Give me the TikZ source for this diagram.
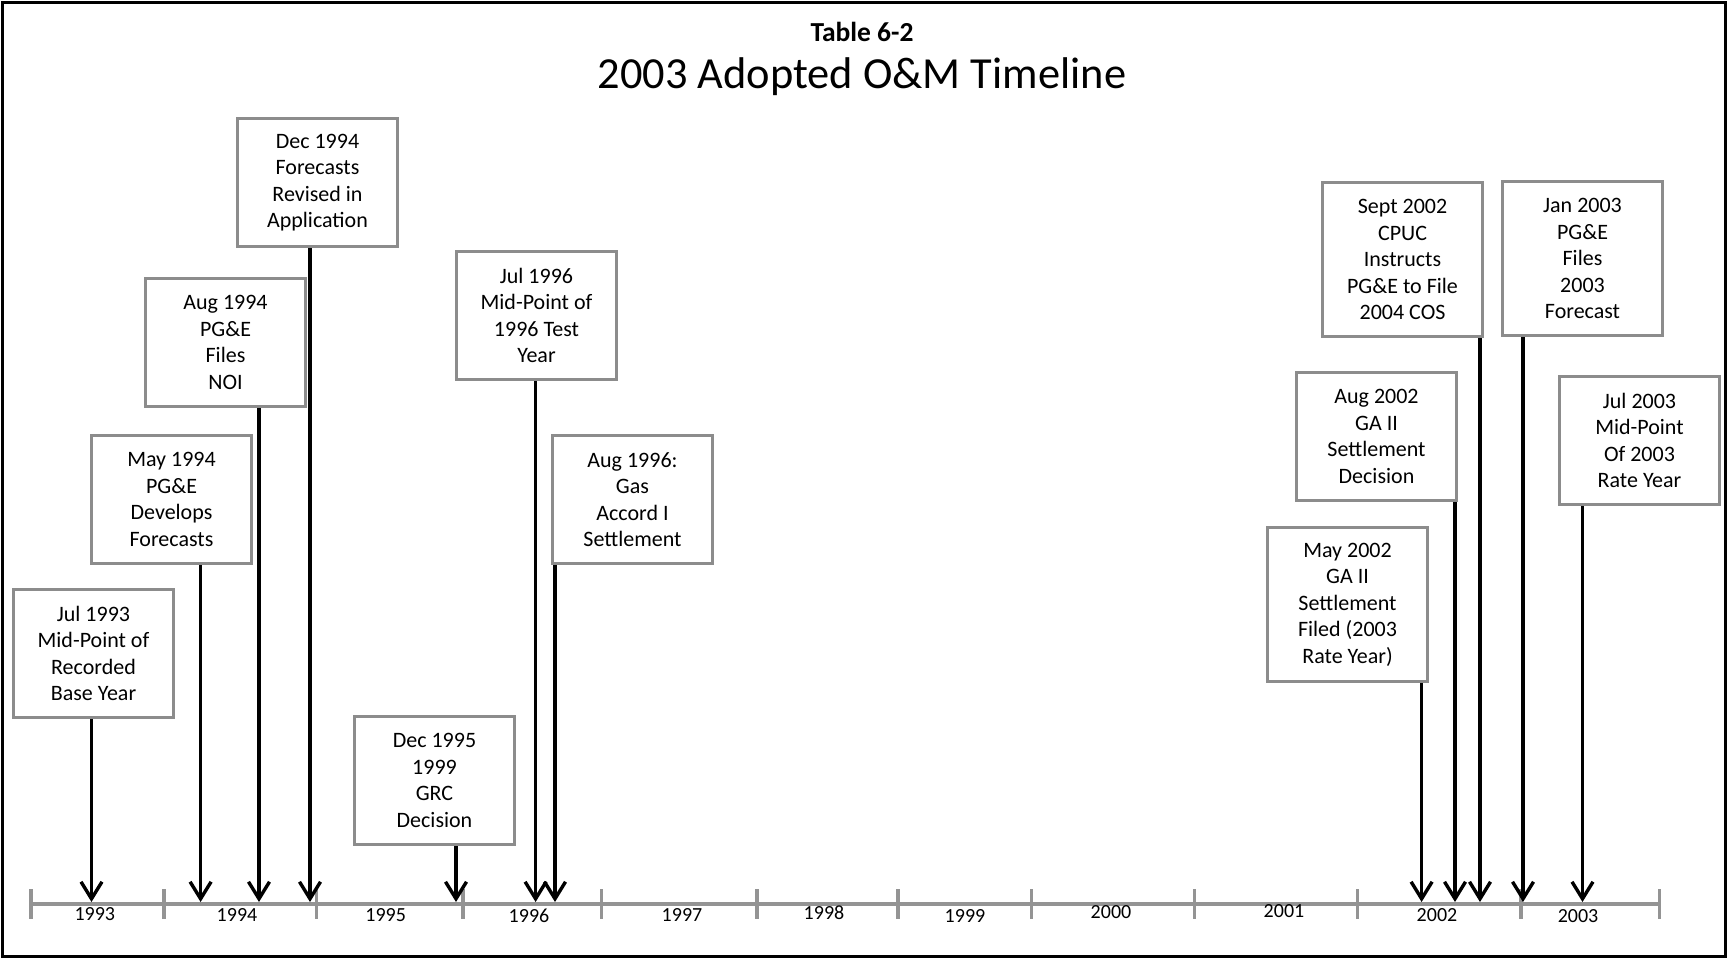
\documentclass[tikz,border=0pt]{standalone}
\usepackage{fontspec}
\setmainfont{Carlito}
\usetikzlibrary{arrows.meta}
\definecolor{boxgray}{gray}{0.55}
\definecolor{axgray}{gray}{0.58}
\begin{document}
\begin{tikzpicture}[x=1pt,y=-1pt,
  evbox/.style={draw=boxgray,line width=3pt,fill=white,anchor=north west,
    minimum width=160pt,minimum height=128pt,inner sep=0pt,align=center,
    font=\fontsize{22}{26.5}\selectfont},
  tall/.style={minimum height=154pt},
  evarrow/.style={line width=3.7pt,-{Straight Barb[length=17pt,width=21pt,line width=3.4pt]}},
  axisline/.style={draw=axgray,line width=4.5pt},
  tickline/.style={draw=axgray,line width=3.5pt},
  yearlbl/.style={font=\fontsize{20}{24}\selectfont,inner sep=0pt}]
\useasboundingbox (0,0) rectangle (1728,959);
\draw[line width=3pt] (2.5,2.5) rectangle (1725.5,956.5);
\node[font=\bfseries\fontsize{27.5}{32}\selectfont] (tab) at (862,32) {Table 6-2};
\node[font=\fontsize{44.4}{50}\selectfont] (title) at (862,77) {2003 Adopted O\&M Timeline};
% axis
\coordinate (a0) at (30.9,904);
\coordinate (a1) at (1659.6,904);
\draw[axisline] (a0) -- (a1);
\foreach \x in {30.9,164.2,316.3,462.8,601.7,757,898,1031.5,1194.6,1357.7,1520.8,1659.6}
  \draw[tickline] (\x,889) -- (\x,919);
\foreach \x/\y/\t in {94.8/914/1993,237/915/1994,385.7/915/1995,529/916/1996,682/915/1997,824/912.5/1998,965/916/1999,1111/912.5/2000,1284/911.5/2001,1437/915/2002,1578/916/2003}
  \node[yearlbl] at (\x,\y) {\t};
% boxes
\node[evbox] (b1) at (12,588) {Jul 1993\\Mid-Point of\\Recorded\\Base Year};
\node[evbox] (b2) at (90,434) {May 1994\\PG\&E\\Develops\\Forecasts};
\node[evbox] (b3) at (144,277) {Aug 1994\\PG\&E\\Files\\NOI};
\node[evbox] (b4) at (236,117) {Dec 1994\\Forecasts\\Revised in\\Application};
\node[evbox] (b5) at (353,715) {Dec 1995\\1999\\GRC\\Decision};
\node[evbox] (b6) at (455,250) {Jul 1996\\Mid-Point of\\1996 Test\\Year};
\node[evbox] (b7) at (551,434) {Aug 1996:\\Gas\\Accord I\\Settlement};
\node[evbox,tall] (b8) at (1266,526) {May 2002\\GA II\\Settlement\\Filed (2003\\Rate Year)};
\node[evbox] (b9) at (1295,371) {Aug 2002\\GA II\\Settlement\\Decision};
\node[evbox,tall] (b10) at (1321,181) {Sept 2002\\CPUC\\Instructs\\PG\&E to File\\2004 COS};
\node[evbox,tall] (b11) at (1501,180) {Jan 2003\\PG\&E\\Files\\2003\\Forecast};
\node[evbox] (b12) at (1558,375) {Jul 2003\\Mid-Point\\Of 2003\\Rate Year};
% arrow targets on the axis
\foreach \i/\x in {1/91.5,2/200.6,3/259,4/310,5/456,6/535.6,7/555,8/1421.6,9/1455,10/1480,11/1523,12/1582.5}
  \coordinate (t\i) at (\x,902);
\foreach \i in {1,2,3,4,5,6,7,8,9,10,11,12}
  \draw[evarrow] (b\i.south -| t\i) -- (t\i);
\end{tikzpicture}
\end{document}
